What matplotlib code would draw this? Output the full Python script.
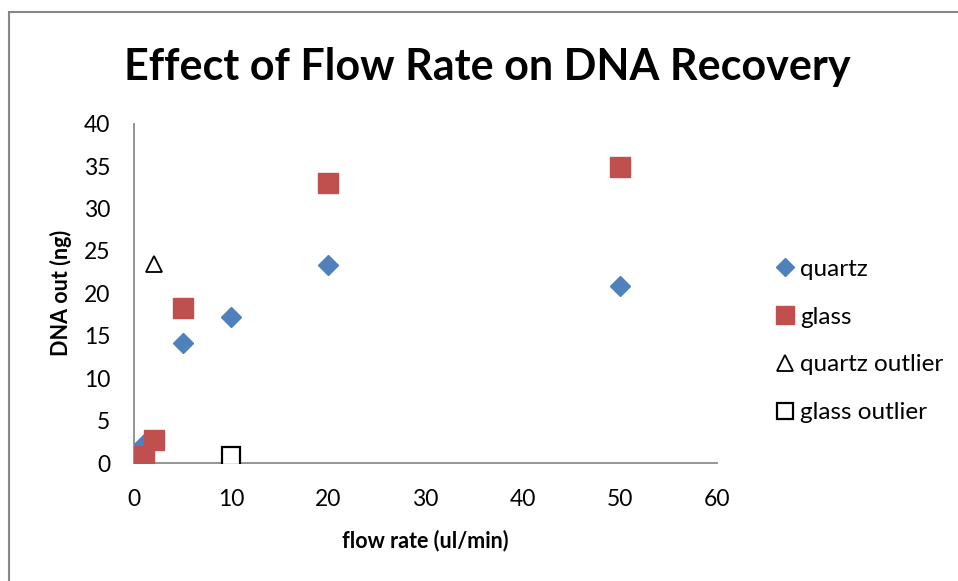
import matplotlib.pyplot as plt
from matplotlib.lines import Line2D
from matplotlib.patches import Rectangle

plt.rcParams['font.family'] = ['Lato', 'DejaVu Sans']

# Flow rate (ul/min) vs DNA recovered (ng)
quartz_x = [1, 5, 10, 20, 50]
quartz_y = [2.3, 14.2, 17.2, 23.4, 20.9]
glass_x = [1, 2, 5, 20, 50]
glass_y = [0.8, 2.7, 18.3, 33.0, 34.9]
quartz_outlier_x = [2]
quartz_outlier_y = [23.5]
glass_outlier_x = [10]
glass_outlier_y = [0.8]

x_ticks = [0, 10, 20, 30, 40, 50, 60]
y_ticks = [0, 5, 10, 15, 20, 25, 30, 35, 40]

fig = plt.figure(figsize=(9.58, 5.81), dpi=100)
ax = fig.add_axes([0.140, 0.203, 0.608, 0.584])

ax.plot(quartz_x, quartz_y, linestyle='none', marker='D', markersize=10.2,
        color='#4F81BD', markeredgecolor='#4F81BD', label='quartz', zorder=3)
ax.plot(glass_x, glass_y, linestyle='none', marker='s', markersize=14,
        color='#C0504D', markeredgecolor='#C0504D', label='glass', zorder=4)
ax.plot(quartz_outlier_x, quartz_outlier_y, linestyle='none', marker='^', markersize=11.5,
        markerfacecolor='white', markeredgecolor='black', markeredgewidth=1.3,
        label='quartz outlier', zorder=4)
ax.plot(glass_outlier_x, glass_outlier_y, linestyle='none', marker='s', markersize=13,
        markerfacecolor='white', markeredgecolor='black', markeredgewidth=1.6,
        label='glass outlier', zorder=4)

ax.set_xlim(0, 60)
ax.set_ylim(0, 40)
ax.set_xticks(x_ticks)
ax.set_yticks(y_ticks)
ax.tick_params(length=0, labelsize=16.5)
ax.tick_params(axis='x', pad=19)
ax.tick_params(axis='y', pad=17)
for s in ['top', 'right']:
    ax.spines[s].set_visible(False)
for s in ['left', 'bottom']:
    ax.spines[s].set_color('#8C8C8C')
    ax.spines[s].set_linewidth(1.3)

ax.set_xlabel('flow rate (ul/min)', fontsize=15.5, fontweight='bold', labelpad=14)
ax.set_ylabel('DNA out (ng)', fontsize=15.5, fontweight='bold', labelpad=9)

fig.text(0.509, 0.885, 'Effect of Flow Rate on DNA Recovery', ha='center', va='center',
         fontsize=31, fontweight='bold')

handles = [
    Line2D([], [], linestyle='none', marker='D', markersize=9, color='#4F81BD'),
    Line2D([], [], linestyle='none', marker='s', markersize=13, color='#C0504D'),
    Line2D([], [], linestyle='none', marker='^', markersize=11, markerfacecolor='white',
           markeredgecolor='black', markeredgewidth=1.3),
    Line2D([], [], linestyle='none', marker='s', markersize=12, markerfacecolor='white',
           markeredgecolor='black', markeredgewidth=1.6),
]
labels = ['quartz', 'glass', 'quartz outlier', 'glass outlier']
fig.legend(handles, labels, loc='center left', bbox_to_anchor=(0.786, 0.413),
           frameon=False, fontsize=17.5, handlelength=0.8, handletextpad=0.25,
           labelspacing=1.1)

# outer chart frame
fig.patches.append(Rectangle((0.009, -0.05), 1.2, 1.03, transform=fig.transFigure,
                             fill=False, edgecolor='#878787', linewidth=1.5))

fig.savefig('out.png', dpi=100)
